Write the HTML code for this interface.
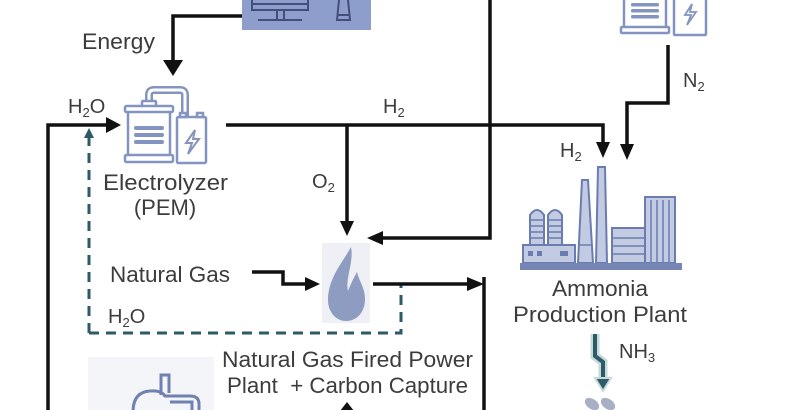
<!DOCTYPE html>
<html><head><meta charset="utf-8"><style>
html,body{margin:0;padding:0;background:#fff;}
svg{display:block;}
text{font-family:"Liberation Sans",Arial,sans-serif;fill:#3c3c3c;}
</style></head><body>
<svg width="790" height="410" viewBox="0 0 790 410" xmlns="http://www.w3.org/2000/svg">
<rect width="790" height="410" fill="#fff"/>

<!-- top power box -->
<rect x="242" y="-4" width="129" height="34" fill="#8d9dcc"/>
<g stroke="#434f78" stroke-width="2" fill="none">
  <path d="M252,0 V10 H308 V0"/>
  <path d="M252,4 H308"/>
  <path d="M277,10 V19 M284,10 V19"/>
  <path d="M258,20 H302"/>
  <path d="M339,0 L337,20 H350 L348,0"/>
  <path d="M338,15 H349"/>
</g>

<!-- top right electrolyzer (partial) -->
<g stroke="#8494c0" stroke-width="2.5" fill="#fff">
  <rect x="624" y="-5" width="42" height="35"/>
  <rect x="621" y="27" width="48" height="6" rx="1"/>
  <rect x="674" y="-5" width="32" height="40" rx="1"/>
</g>
<g fill="#8494c0">
  <rect x="631" y="3" width="28" height="3.5" rx="1.5"/>
  <rect x="631" y="9" width="28" height="3.5" rx="1.5"/>
  <rect x="631" y="15" width="28" height="3.5" rx="1.5"/>
</g>
<path d="M692,4 L685,15 H691 L687,25 L696,12 H690 Z" fill="none" stroke="#8494c0" stroke-width="1.8"/>

<!-- left electrolyzer -->
<path d="M149,103 V95 Q149,90 154,90 H180 Q185,90 185,95 V118" fill="none" stroke="#8494c0" stroke-width="8"/>
<path d="M149,103 V95 Q149,90 154,90 H180 Q185,90 185,95 V118" fill="none" stroke="#fff" stroke-width="3"/>
<g stroke="#8494c0" stroke-width="2.5" fill="#fff">
  <rect x="142" y="101" width="14" height="6" rx="1"/>
  <rect x="128" y="108" width="42" height="48"/>
  <rect x="125" y="106" width="48" height="6" rx="1.5"/>
  <rect x="125" y="155" width="48" height="7" rx="1.5"/>
  <rect x="177" y="117" width="29" height="46" rx="1.5"/>
  <rect x="180" y="113" width="6" height="4"/>
  <rect x="197" y="113" width="6" height="4"/>
</g>
<g fill="#8494c0">
  <rect x="134" y="126" width="30" height="4" rx="2"/>
  <rect x="134" y="133" width="30" height="4" rx="2"/>
  <rect x="134" y="140" width="30" height="4" rx="2"/>
</g>
<path d="M195,130 L186,143 H192 L188,154 L199,139 H193 Z" fill="none" stroke="#8494c0" stroke-width="2"/>

<!-- flame -->
<rect x="322" y="243" width="48" height="80" fill="#eef0f5"/>
<path d="M351,247 C343,262 328,278 328,300 C328,312 336,321 346,321 C357,321 365,312 365,299 C365,288 359,281 357,272 C353,279 350,286 348,291 C345,279 354,262 351,247 Z" fill="#8e9cc2"/>

<!-- bottom-left box -->
<rect x="88" y="357" width="126" height="60" fill="#f4f5f8"/>
<g stroke="#7080b0" stroke-width="3" fill="none">
  <path d="M161,395 V375 H169 V393"/>
  <path d="M133,412 Q133,392 150,391 Q161,390 165,396 L190,396 Q199,396 199,404 V412"/>
  <path d="M170,402 H192 V412"/>
</g>

<!-- ammonia plant -->
<g stroke="#6b7db0" stroke-width="2" fill="#c3cbe3">
  <path d="M530,255 V215 Q537,205 544,215 V255 Z"/>
  <path d="M548,255 V215 Q555,205 562,215 V255 Z"/>
  <rect x="523" y="245" width="52" height="18"/>
  <path d="M578,263 L582,180 H588 L593,263 Z"/>
  <path d="M596,263 L598,167 H605 L607,263 Z"/>
  <rect x="612" y="228" width="33" height="35"/>
  <rect x="645" y="197" width="30" height="66"/>
</g>
<g stroke="#6b7db0" stroke-width="1.5">
  <path d="M531,220 H543 M531,226 H543 M531,232 H543 M531,238 H543 M549,220 H561 M549,226 H561 M549,232 H561 M549,238 H561"/>
  <path d="M613,238 H644 M613,246 H644 M613,254 H644"/>
  <path d="M651,200 V262 M657,200 V262 M663,200 V262 M669,200 V262"/>
  <path d="M579,245 H592"/>
</g>
<g fill="#6b7db0">
  <rect x="528" y="251" width="5" height="5"/><rect x="537" y="251" width="5" height="5"/><rect x="560" y="251" width="8" height="5"/>
</g>
<rect x="520" y="263" width="162" height="7" fill="#7586b5"/>

<!-- NH3 arrow -->
<path d="M595,334 V356 L603,362 V380" fill="none" stroke="#c6dadd" stroke-width="9"/>
<path d="M595,334 V356 L603,362 V380" fill="none" stroke="#2e5b66" stroke-width="4"/>
<path d="M595,378 H611 L603,391 Z" fill="#2e5b66" stroke="#c6dadd" stroke-width="2"/>
<g fill="#a7aec6">
  <ellipse cx="592" cy="404" rx="8" ry="5" transform="rotate(35 592 404)"/>
  <ellipse cx="608" cy="404" rx="8" ry="5" transform="rotate(35 608 404)"/>
</g>

<!-- dashed recycle -->
<g stroke="#2c5a66" stroke-width="3" fill="none" stroke-dasharray="10 7">
  <path d="M89,333 V136"/>
  <path d="M89,333 H401 V283"/>
</g>
<path d="M84,138 H94 L89,128 Z" fill="#2c5a66"/>

<!-- black connectors -->
<g stroke="#111" stroke-width="3.5" fill="none">
  <path d="M242,16 H173 V62"/>
  <path d="M48,412 V125 H108"/>
  <path d="M226,125 H603 V143"/>
  <path d="M347,125 V222"/>
  <path d="M490,-2 V238 H382"/>
  <path d="M668,45 V103 H627 V145"/>
  <path d="M252,272 H283 V284 H306"/>
  <path d="M373,284 H468"/>
  <path d="M484,277 V412"/>
</g>
<g fill="#111">
  <path d="M163,60 H183 L173,76 Z"/>
  <path d="M106,117 V133 L121,125 Z"/>
  <path d="M596,142 H610 L603,158 Z"/>
  <path d="M340,221 H354 L347,236 Z"/>
  <path d="M383,231 V245 L367,238 Z"/>
  <path d="M620,144 H634 L627,160 Z"/>
  <path d="M305,277 V291 L320,284 Z"/>
  <path d="M467,277 V291 L484,284 Z"/>
  <path d="M340,411 H354 L347,402 Z"/>
</g>

<!-- labels -->
<text x="82" y="49" font-size="22" textLength="73" lengthAdjust="spacingAndGlyphs">Energy</text>
<text x="68" y="113" font-size="20">H<tspan font-size="13" dy="4">2</tspan><tspan dy="-4">O</tspan></text>
<text x="383" y="113" font-size="20">H<tspan font-size="13" dy="4">2</tspan></text>
<text x="312" y="188" font-size="20">O<tspan font-size="13" dy="4">2</tspan></text>
<text x="560" y="157" font-size="20">H<tspan font-size="13" dy="4">2</tspan></text>
<text x="683" y="87" font-size="20">N<tspan font-size="13" dy="4">2</tspan></text>
<text x="619" y="358" font-size="20" fill="#4a4a4a">NH<tspan font-size="13" dy="4">3</tspan></text>
<text x="108" y="323" font-size="20">H<tspan font-size="13" dy="4">2</tspan><tspan dy="-4">O</tspan></text>

<text x="103" y="190" font-size="22" textLength="125" lengthAdjust="spacingAndGlyphs">Electrolyzer</text>
<text x="165" y="215" font-size="22" text-anchor="middle">(PEM)</text>
<text x="110" y="282" font-size="22" textLength="120" lengthAdjust="spacingAndGlyphs">Natural Gas</text>
<text x="222" y="367" font-size="22" textLength="251" lengthAdjust="spacingAndGlyphs">Natural Gas Fired Power</text>
<text x="227" y="393" font-size="22" textLength="241" lengthAdjust="spacingAndGlyphs" xml:space="preserve">Plant  + Carbon Capture</text>
<text x="552" y="296" font-size="22" textLength="96" lengthAdjust="spacingAndGlyphs">Ammonia</text>
<text x="513" y="322" font-size="22" textLength="174" lengthAdjust="spacingAndGlyphs">Production Plant</text>
</svg>
</body></html>
